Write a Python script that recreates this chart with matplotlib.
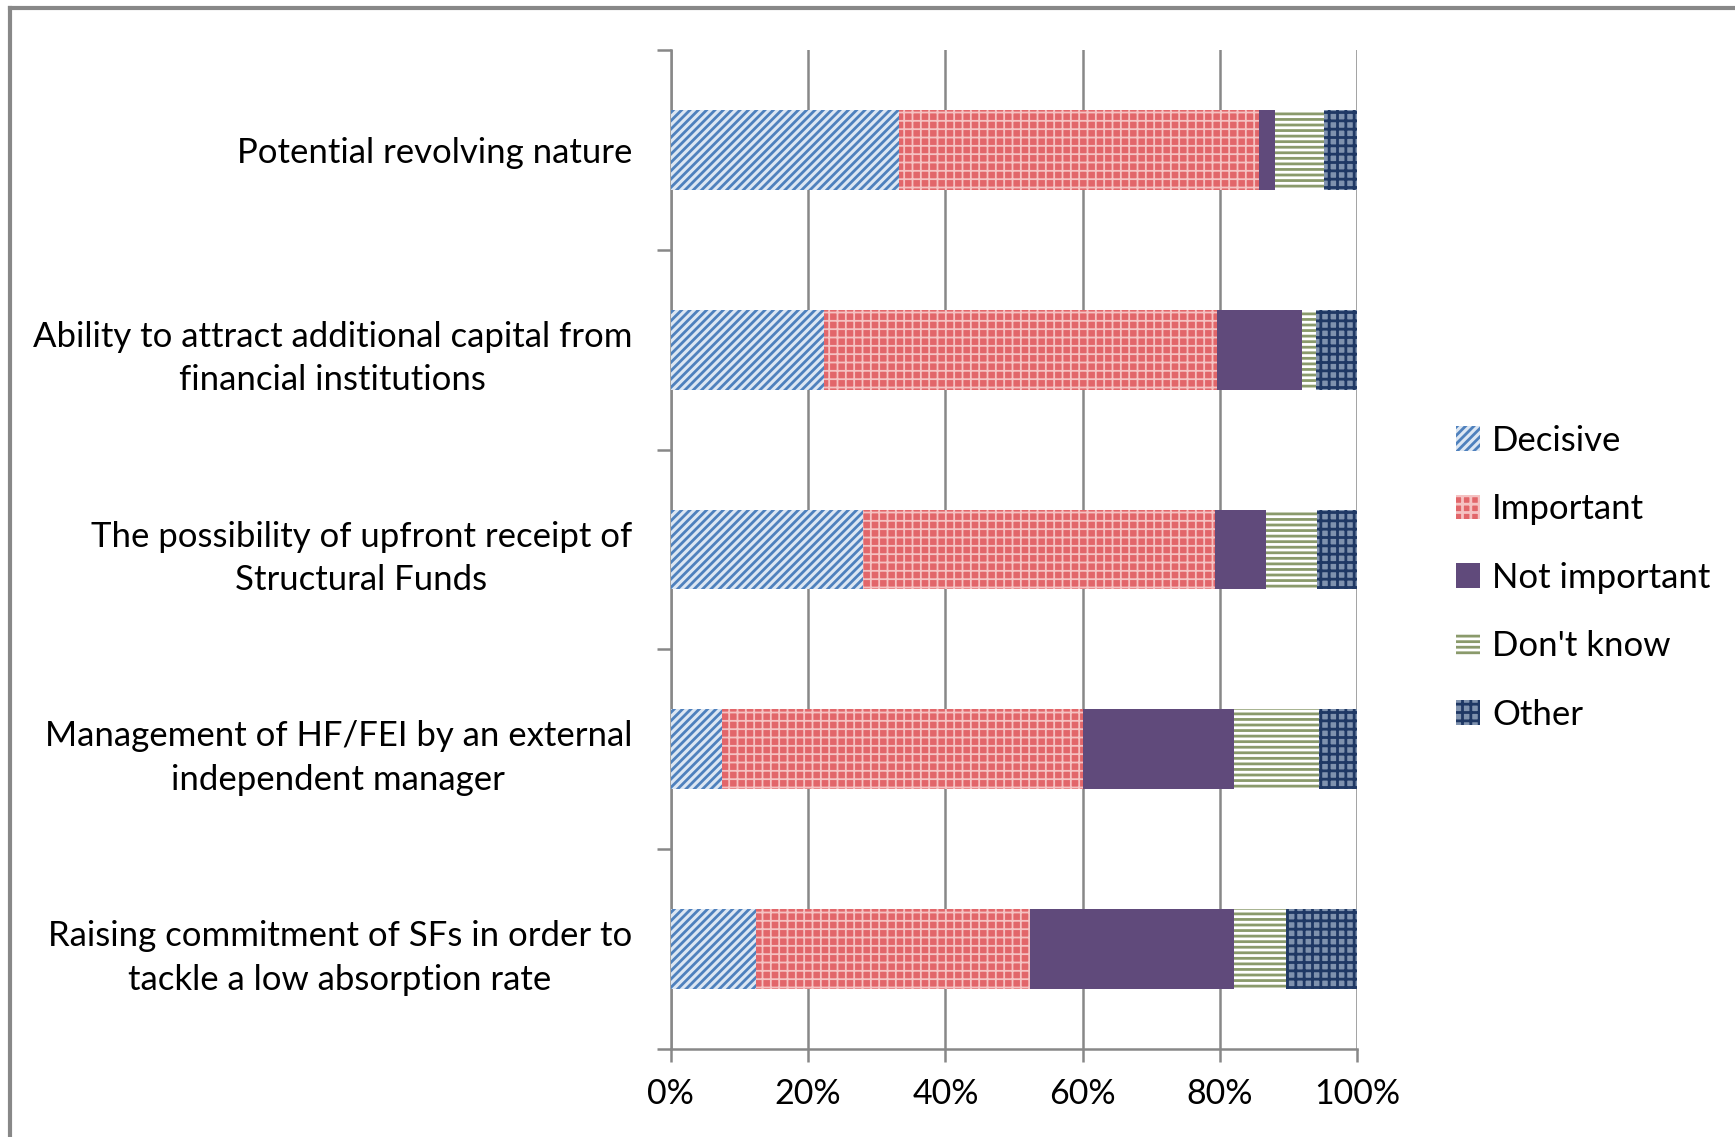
import numpy as np
import matplotlib
matplotlib.use("Agg")
from matplotlib import pyplot as plt
from matplotlib.patches import Patch
from matplotlib.lines import Line2D

plt.rcParams['font.family'] = ['Lato', 'DejaVu Sans']

categories = [
    "Potential revolving nature",
    "Ability to attract additional capital from\nfinancial institutions",
    "The possibility of upfront receipt of\nStructural Funds",
    "Management of HF/FEI by an external\nindependent manager",
    "Raising commitment of SFs in order to\ntackle a low absorption rate",
]
series = ["Decisive", "Important", "Not important", "Don't know", "Other"]

decisive = [33.3, 22.3, 28.0, 7.4, 12.4]
important = [52.4, 57.3, 51.3, 52.6, 40.0]
not_important = [2.4, 12.3, 7.4, 22.0, 29.6]
dont_know = [7.1, 2.1, 7.5, 12.5, 7.6]
other = [4.8, 6.0, 5.8, 5.5, 10.4]

# face, hatch colour, hatch, hatch width
styles = [
    ('#dde7f3', '#4f81bd', '////', 2.0),
    ('#e2666a', '#f5c2c2', '++', 1.3),
    ('#604a7b', '#604a7b', None, 1.0),
    ('#ffffff', '#8a9a6b', '---', 2.0),
    ('#7f92ae', '#1f3864', '++', 2.0),
]

fig = plt.figure(figsize=(17.35, 11.37), dpi=100)
ax = fig.add_axes([0.3867, 0.0774, 0.3955, 0.8786])

data = np.array([decisive, important, not_important, dont_know, other], dtype=float)
data = data / data.sum(axis=0) * 100
y = np.arange(len(categories))
left = np.zeros(len(categories))
handles = []
for i, name in enumerate(series):
    fc, hc, h, hw = styles[i]
    plt.rcParams['hatch.linewidth'] = hw
    ax.barh(y, data[i], left=left, height=0.4, color=fc, edgecolor=hc,
            hatch=h, linewidth=0, label=name, zorder=3)
    handles.append(Patch(facecolor=fc, edgecolor=hc, hatch=h, linewidth=0, label=name))
    left += data[i]

ax.set_xlim(0, 100)
ax.set_ylim(len(categories) - 0.5, -0.5)
ax.set_xticks(np.arange(0, 101, 20))
ax.set_xticklabels([f"{v}%" for v in range(0, 101, 20)], fontsize=24.5)
ax.set_yticks(y)
ax.set_yticklabels(categories, fontsize=25, multialignment='center', linespacing=1.45)
ax.set_yticks(np.arange(-0.5, len(categories), 1), minor=True)
ax.tick_params(axis='y', which='major', length=0, pad=28)
ax.tick_params(axis='y', which='minor', length=10, width=1.8, color='#888888', direction='out')
ax.tick_params(axis='x', length=9, width=1.8, color='#888888', pad=12)

ax.grid(axis='x', color='#888888', linewidth=1.8, zorder=0)
for s in ['top', 'right']:
    ax.spines[s].set_visible(False)
for s in ['left', 'bottom']:
    ax.spines[s].set_color('#888888')
    ax.spines[s].set_linewidth(1.8)

fig.legend(handles=handles, loc='center left', bbox_to_anchor=(0.839, 0.492),
           frameon=False, fontsize=25, handlelength=0.7, handleheight=0.7,
           handletextpad=0.35, labelspacing=1.05, borderaxespad=0, borderpad=0)

# outer border (left and top)
fig.add_artist(Line2D([0.0058, 0.0058], [0, 0.9934], transform=fig.transFigure,
                      color='#888888', linewidth=3))
fig.add_artist(Line2D([0.0058, 1.0], [0.9934, 0.9934], transform=fig.transFigure,
                      color='#888888', linewidth=3))

fig.savefig("out.png", dpi=100)
